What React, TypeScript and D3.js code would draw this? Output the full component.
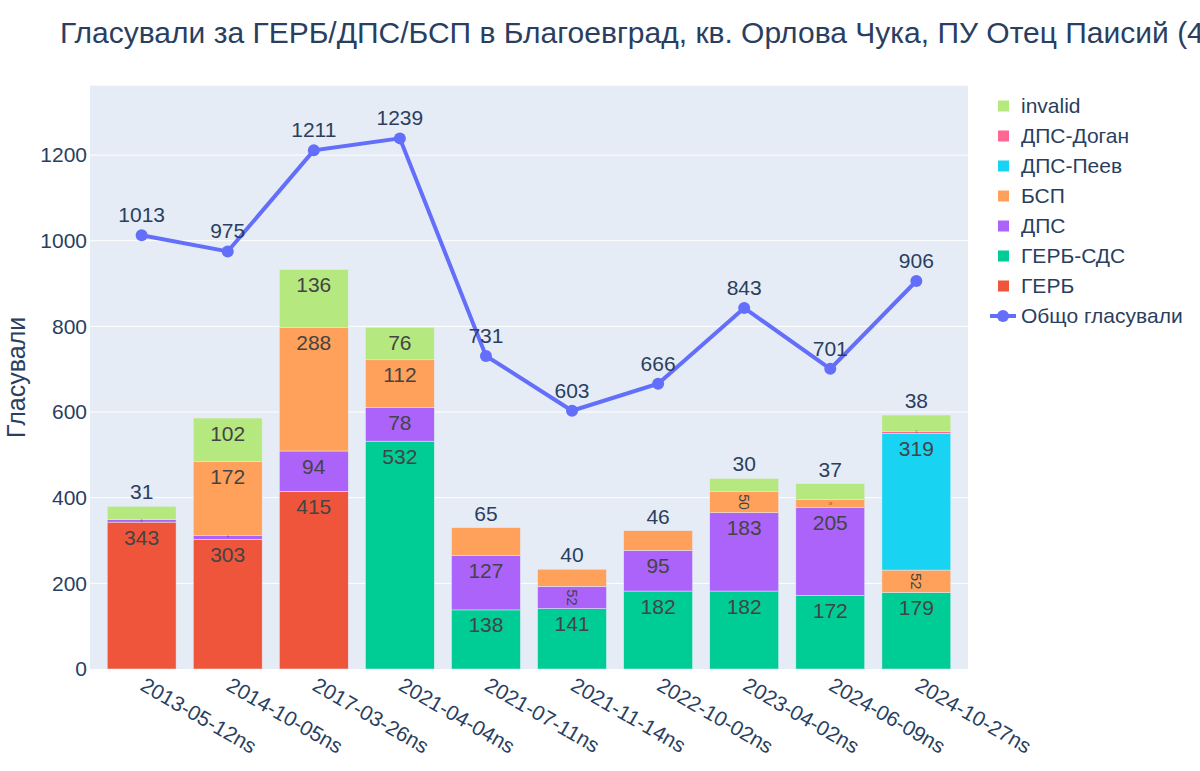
import React from 'react';
import * as d3 from 'd3';

// Election dates (category axis)
const dates = [
  '2013-05-12ns', '2014-10-05ns', '2017-03-26ns', '2021-04-04ns', '2021-07-11ns',
  '2021-11-14ns', '2022-10-02ns', '2023-04-02ns', '2024-06-09ns', '2024-10-27ns',
];

// Stacked bar series (null = party not on the ballot)
const gerb = [343, 303, 415, null, null, null, null, null, null, null];
const gerbSds = [null, null, null, 532, 138, 141, 182, 182, 172, 179];
const dps = [6, 9, 94, 78, 127, 52, 95, 183, 205, null];
const bsp = [null, 172, 288, 112, 65, 40, 46, 50, 19, 52];
const dpsPeev = [null, null, null, null, null, null, null, null, null, 319];
const dpsDogan = [null, null, null, null, null, null, null, null, null, 5];
const invalid = [31, 102, 136, 76, null, null, null, 30, 37, 38];

// Line series
const totalVoted = [1013, 975, 1211, 1239, 731, 603, 666, 843, 701, 906];

const yTicks = [0, 200, 400, 600, 800, 1000, 1200];

const SERIES = [
  { name: 'ГЕРБ', values: gerb, color: '#EF553B' },
  { name: 'ГЕРБ-СДС', values: gerbSds, color: '#00CC96' },
  { name: 'ДПС', values: dps, color: '#AB63FA' },
  { name: 'БСП', values: bsp, color: '#FFA15A' },
  { name: 'ДПС-Пеев', values: dpsPeev, color: '#19D3F3' },
  { name: 'ДПС-Доган', values: dpsDogan, color: '#FF6692' },
  { name: 'invalid', values: invalid, color: '#B6E880' },
];

const LINE_COLOR = '#636EFA';
const FONT = '"Liberation Sans", Arial, sans-serif';
const TEXT = '#2a3f5f';
const INSIDE_TEXT = '#444';
const FS = 21;

const W = 1200;
const H = 771;
const plot = { left: 90, right: 968, top: 85.7, bottom: 669 };

const App: React.FC = () => {
  const x = d3.scaleBand<string>()
    .domain(dates)
    .range([plot.left, plot.right])
    .paddingInner(0.2)
    .paddingOuter(0.2);
  const y = d3.scaleLinear().domain([0, 1362]).range([plot.bottom, plot.top]);

  const rows = dates.map((d, i) => {
    const r: Record<string, number> = {};
    SERIES.forEach((s) => { r[s.name] = s.values[i] ?? 0; });
    return r;
  });
  const stacked = d3.stack<Record<string, number>>().keys(SERIES.map((s) => s.name))(rows);

  // index of top-most non-empty series for each date
  const topIdx = dates.map((_, i) => {
    let t = -1;
    SERIES.forEach((s, k) => { if ((s.values[i] ?? 0) > 0) t = k; });
    return t;
  });

  const line = d3.line<number>()
    .x((_, i) => (x(dates[i]) as number) + x.bandwidth() / 2)
    .y((v) => y(v));

  const bw = x.bandwidth();

  const barLabels: React.ReactNode[] = [];
  stacked.forEach((layer, k) => {
    layer.forEach((seg, i) => {
      const v = SERIES[k].values[i];
      if (v == null || v <= 0) return;
      const x0 = x(dates[i]) as number;
      const cx = x0 + bw / 2;
      const yTop = y(seg[1]);
      const h = y(seg[0]) - yTop;
      const txt = String(v);
      const key = `t-${k}-${i}`;
      if (k === topIdx[i] && h < 30) {
        barLabels.push(
          <text key={key} x={cx} y={yTop - 7} textAnchor="middle" fontSize={FS} fill={TEXT}>{txt}</text>
        );
      } else if (h >= 30) {
        barLabels.push(
          <text key={key} x={cx} y={yTop + 22.5} textAnchor="middle" fontSize={FS} fill={INSIDE_TEXT}>{txt}</text>
        );
      } else if (h >= 12) {
        const fs = Math.min(FS, (h - 6) / (txt.length * 0.556));
        barLabels.push(
          <text key={key} transform={`translate(${cx},${yTop + h / 2}) rotate(90)`} textAnchor="middle"
            dy="0.35em" fontSize={fs} fill={INSIDE_TEXT}>{txt}</text>
        );
      } else {
        const fs = Math.max((h - 1) * 0.45, 3);
        barLabels.push(
          <text key={key} x={cx} y={yTop + h / 2} textAnchor="middle" dy="0.35em" fontSize={fs}
            fill={INSIDE_TEXT}>{txt}</text>
        );
      }
    });
  });

  const legendItems = [...SERIES].reverse();

  return (
    <svg width={W} height={H} style={{ position: 'absolute', left: 0, top: 0, background: '#fff' }}
      fontFamily={FONT}>
      <rect x={0} y={0} width={W} height={H} fill="#fff" />
      <text x={60} y={43} fontSize={30} fill={TEXT}>
        Гласували за ГЕРБ/ДПС/БСП в Благоевград, кв. Орлова Чука, ПУ Отец Паисий (4)
      </text>

      <rect x={plot.left} y={plot.top} width={plot.right - plot.left} height={plot.bottom - plot.top} fill="#E5ECF6" />
      {yTicks.map((t) => (
        <g key={t}>
          {t > 0 && <line x1={plot.left} x2={plot.right} y1={y(t)} y2={y(t)} stroke="#fff" strokeWidth={1} />}
          <text x={plot.left - 3} y={y(t)} dy="0.35em" textAnchor="end" fontSize={FS} fill={TEXT}>{t}</text>
        </g>
      ))}
      <text transform={`translate(16,${(plot.top + plot.bottom) / 2}) rotate(-90)`} textAnchor="middle"
        dy="0.35em" fontSize={25} fill={TEXT}>Гласували</text>

      {stacked.map((layer, k) => (
        <g key={SERIES[k].name} fill={SERIES[k].color}>
          {layer.map((seg, i) => {
            const v = SERIES[k].values[i];
            if (v == null || v <= 0) return null;
            return (
              <rect key={i} x={x(dates[i])} y={y(seg[1])} width={bw} height={y(seg[0]) - y(seg[1])}
                stroke="#E5ECF6" strokeWidth={0.5} />
            );
          })}
        </g>
      ))}
      {barLabels}

      <path d={line(totalVoted) ?? ''} fill="none" stroke={LINE_COLOR} strokeWidth={4} />
      {totalVoted.map((v, i) => {
        const cx = (x(dates[i]) as number) + bw / 2;
        return (
          <g key={i}>
            <circle cx={cx} cy={y(v)} r={6} fill={LINE_COLOR} />
            <text x={cx} y={y(v) - 13} textAnchor="middle" fontSize={FS} fill={TEXT}>{v}</text>
          </g>
        );
      })}

      {dates.map((d) => {
        const cx = (x(d) as number) + bw / 2;
        return (
          <text key={d} transform={`translate(${cx + 1},${plot.bottom + 14}) rotate(30)`} fontSize={FS}
            fill={TEXT} dy="0.35em">{d}</text>
        );
      })}

      <g transform="translate(990,0)">
        {legendItems.map((s, j) => (
          <g key={s.name} transform={`translate(0,${106 + j * 30})`}>
            <rect x={8} y={-5.5} width={11} height={11} fill={s.color} />
            <text x={31} y={0} dy="0.35em" fontSize={FS} fill={TEXT}>{s.name}</text>
          </g>
        ))}
        <g transform={`translate(0,${106 + legendItems.length * 30})`}>
          <line x1={0} x2={26} y1={0} y2={0} stroke={LINE_COLOR} strokeWidth={4} />
          <circle cx={13} cy={0} r={6} fill={LINE_COLOR} />
          <text x={31} y={0} dy="0.35em" fontSize={FS} fill={TEXT}>Общо гласували</text>
        </g>
      </g>
    </svg>
  );
};

export default App;
